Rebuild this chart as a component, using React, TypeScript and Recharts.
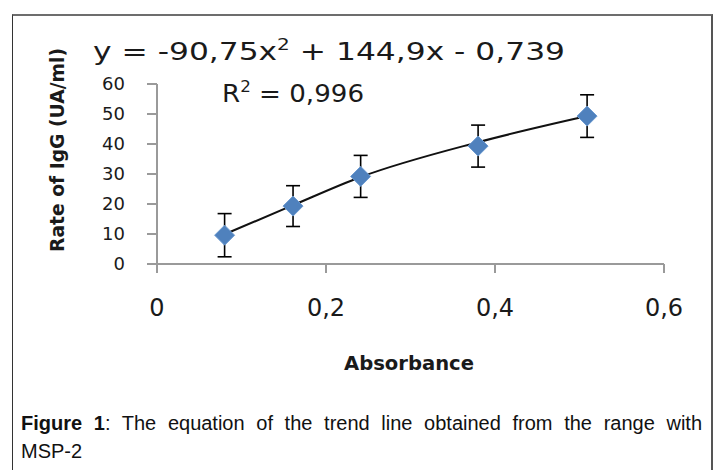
import React from 'react';
import { ComposedChart, Line, Scatter, XAxis, YAxis, ErrorBar } from 'recharts';

// standard curve points
const absorbance = [0.08, 0.161, 0.241, 0.38, 0.509];
const iggRate = [9.6, 19.3, 29.2, 39.3, 49.3];
const errors = [7.2, 6.8, 7, 7, 7.1];
// trend line as it passes the points
const trend = [9.9, 19.6, 29.0, 40.6, 49.3];
const xTicks = [0, 0.2, 0.4, 0.6];
const yTicks = [0, 10, 20, 30, 40, 50, 60];

const data = absorbance.map((a, i) => ({ abs: a, igg: iggRate[i], err: errors[i], trend: trend[i] }));

const chartFont = '"DejaVu Sans", sans-serif';

const Diamond: React.FC<any> = ({ cx, cy }) => {
  if (cx == null || cy == null) return null;
  const r = 10;
  return (
    <polygon
      points={`${cx},${cy - r} ${cx + r},${cy} ${cx},${cy + r} ${cx - r},${cy}`}
      fill="#4F81BD"
      stroke="#6C9AD0"
      strokeWidth={1}
    />
  );
};

const App: React.FC = () => {
  return (
    <div style={{ position: 'absolute', left: 0, top: 0, width: 717, height: 470, overflow: 'hidden', background: '#fff' }}>
      <div
        style={{
          position: 'absolute', left: 12, top: 14, width: 698, height: 470,
          borderTop: '2px solid #6d6d6d', borderLeft: '1px solid #333', borderRight: '2px solid #555',
        }}
      />
      <div style={{ position: 'absolute', left: 0, top: 0 }}>
        <ComposedChart width={717} height={470} data={data} margin={{ top: 84, right: 53, left: 97, bottom: 166 }}>
          <XAxis
            dataKey="abs"
            type="number"
            domain={[0, 0.6]}
            ticks={xTicks}
            height={40}
            tickSize={9}
            tickMargin={26}
            tickFormatter={(v: number) => String(v).replace('.', ',')}
            stroke="#9a9a9a"
            strokeWidth={2}
            tick={{ fill: '#1a1a1a', fontSize: 24, fontFamily: chartFont }}
          />
          <YAxis
            type="number"
            domain={[0, 60]}
            ticks={yTicks}
            width={60}
            tickSize={10}
            tickMargin={22}
            stroke="#9a9a9a"
            strokeWidth={2}
            tick={{ fill: '#1a1a1a', fontSize: 18, fontFamily: chartFont }}
          />
          <Line
            dataKey="trend"
            type="monotone"
            stroke="#111"
            strokeWidth={2}
            dot={false}
            activeDot={false}
            isAnimationActive={false}
          />
          <Scatter dataKey="igg" shape={<Diamond />} isAnimationActive={false}>
            <ErrorBar dataKey="err" direction="y" width={7} stroke="#000" strokeWidth={1.6} />
          </Scatter>
        </ComposedChart>
      </div>
      <svg width={717} height={470} style={{ position: 'absolute', left: 0, top: 0, pointerEvents: 'none' }}>
        <text x={93} y={60} fontSize={25} fontFamily={chartFont} fill="#1a1a1a" textLength={472} lengthAdjust="spacingAndGlyphs">
          y = -90,75x<tspan dy={-10} fontSize={16}>2</tspan><tspan dy={10}> + 144,9x - 0,739</tspan>
        </text>
        <text x={222} y={102} fontSize={25} fontFamily={chartFont} fill="#1a1a1a" textLength={142} lengthAdjust="spacingAndGlyphs">
          R<tspan dy={-10} fontSize={16}>2</tspan><tspan dy={10}> = 0,996</tspan>
        </text>
        <text
          x={0}
          y={0}
          transform="translate(64,150) rotate(-90)"
          textAnchor="middle"
          fontSize={19}
          fontWeight="bold"
          fontFamily={chartFont}
          fill="#1a1a1a"
          textLength={204}
          lengthAdjust="spacingAndGlyphs"
        >
          Rate of  IgG (UA/ml)
        </text>
        <text x={409} y={370} textAnchor="middle" fontSize={20} fontWeight="bold" fontFamily={chartFont} fill="#1a1a1a" textLength={130} lengthAdjust="spacingAndGlyphs">
          Absorbance
        </text>
      </svg>
      <div
        style={{
          position: 'absolute', left: 21, top: 409, width: 681, whiteSpace: 'nowrap',
          fontFamily: '"Liberation Sans", Arial, sans-serif', fontSize: 20, color: '#111', lineHeight: '28px',
        }}
      >
        <div style={{ textAlign: 'justify', textAlignLast: 'justify' }}>
          <b>Figure 1</b>: The equation of the trend line obtained from the range with
        </div>
        <div>MSP-2</div>
      </div>
    </div>
  );
};

export default App;
